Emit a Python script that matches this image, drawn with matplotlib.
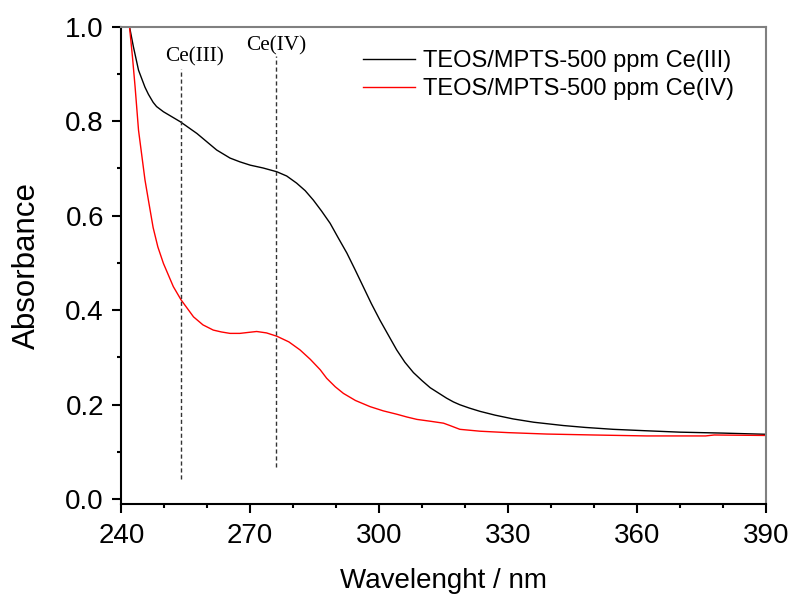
import matplotlib.pyplot as plt
from matplotlib.ticker import MultipleLocator

# Wavelength (nm) and absorbance
wl_ce3 = [241.9, 242.8, 244.0, 245.5, 246.3, 247.4, 248.2, 249.8, 253.7, 257.6,
          262.2, 265.3, 267.6, 270.0, 273.0, 276.2, 278.5, 280.8, 282.8, 284.7,
          286.6, 288.6, 290.5, 292.5, 294.4, 296.3, 298.2, 300.2, 302.3, 304.1,
          306.0, 308.0, 310.0, 311.9, 313.8, 315.7, 317.3, 318.8, 321.0, 323.5,
          327.0, 331.2, 336.0, 342.9, 348.0, 354.5, 362.0, 370.0, 380.0, 390.0]
abs_ce3 = [1.000, 0.958, 0.908, 0.872, 0.857, 0.840, 0.831, 0.820, 0.799, 0.774,
           0.739, 0.722, 0.714, 0.707, 0.701, 0.693, 0.684, 0.669, 0.653, 0.633,
           0.610, 0.584, 0.553, 0.521, 0.486, 0.450, 0.414, 0.379, 0.345, 0.316,
           0.290, 0.268, 0.251, 0.236, 0.225, 0.214, 0.206, 0.200, 0.193, 0.186,
           0.178, 0.170, 0.163, 0.156, 0.152, 0.148, 0.145, 0.142, 0.140, 0.1375]

wl_ce4 = [241.9, 242.6, 243.2, 244.0, 244.6, 245.5, 246.3, 247.4, 248.5, 249.8,
          252.1, 253.9, 256.8, 259.0, 261.4, 263.3, 265.3, 267.6, 269.5, 271.5,
          273.8, 276.2, 279.0, 281.6, 284.0, 286.3, 287.8, 289.8, 291.7, 294.5,
          297.9, 301.0, 304.1, 306.5, 308.8, 312.0, 315.0, 316.5, 318.8, 323.5,
          330.0, 339.0, 350.0, 362.3, 376.0, 378.0, 390.0]
abs_ce4 = [1.000, 0.935, 0.873, 0.781, 0.739, 0.676, 0.633, 0.575, 0.534, 0.499,
           0.450, 0.422, 0.386, 0.369, 0.358, 0.354, 0.351, 0.351, 0.353, 0.355,
           0.352, 0.345, 0.333, 0.316, 0.296, 0.274, 0.256, 0.238, 0.224, 0.209,
           0.196, 0.187, 0.180, 0.174, 0.169, 0.165, 0.161, 0.156, 0.148, 0.144,
           0.141, 0.138, 0.136, 0.134, 0.134, 0.136, 0.135]

# reference lines for the two cerium bands
marker_wl = [254, 276]
marker_bottom = [0.042, 0.069]
marker_top = [0.91, 0.937]
marker_labels = ['Ce(III)', 'Ce(IV)']
label_x = [257, 276]
label_y = [0.937, 0.96]

plt.rcParams['font.family'] = ['Liberation Sans', 'DejaVu Sans']

fig = plt.figure(figsize=(7.92, 5.97), dpi=100)
ax = fig.add_axes([0.1532, 0.1558, 0.8136, 0.7995])

ax.plot(wl_ce3, abs_ce3, color='black', lw=1.0, label='TEOS/MPTS-500 ppm Ce(III)')
ax.plot(wl_ce4, abs_ce4, color='red', lw=1.0, label='TEOS/MPTS-500 ppm Ce(IV)')

for x, y0, y1, lab, lx, ly in zip(marker_wl, marker_bottom, marker_top,
                                  marker_labels, label_x, label_y):
    ax.plot([x, x], [y0, y1], color='#333333', lw=1.0, ls=(0, (3, 2)))
    ax.text(lx, ly, lab, ha='center', va='center', fontsize=15.3,
            family='Liberation Serif')

ax.set_xlim(240, 390)
ax.set_ylim(-0.01, 1.0)
ax.xaxis.set_major_locator(MultipleLocator(30))
ax.xaxis.set_minor_locator(MultipleLocator(10))
ax.yaxis.set_major_locator(MultipleLocator(0.2))
ax.yaxis.set_minor_locator(MultipleLocator(0.1))
ax.yaxis.set_major_formatter(plt.FormatStrFormatter('%.1f'))

ax.tick_params(which='both', direction='out', top=False, right=False,
               width=1.5, labelsize=20)
ax.tick_params(which='major', length=6.5)
ax.tick_params(axis='y', which='major', pad=6)
ax.tick_params(axis='x', which='major', pad=7)
ax.tick_params(which='minor', length=3)
for s in ['left', 'bottom']:
    ax.spines[s].set_linewidth(1.5)
for s in ['top', 'right']:
    ax.spines[s].set_color('#808080')
    ax.spines[s].set_linewidth(1.5)

ax.set_xlabel('Wavelenght / nm', fontsize=20, labelpad=14)
ax.set_ylabel('Absorbance', fontsize=22.5, labelpad=17)

ax.legend(loc='upper left', bbox_to_anchor=(0.375, 0.951), frameon=False,
          borderpad=0, borderaxespad=0, fontsize=17, handlelength=2.2,
          handletextpad=0.35, labelspacing=0.25)

fig.savefig('out.png', dpi=100)
